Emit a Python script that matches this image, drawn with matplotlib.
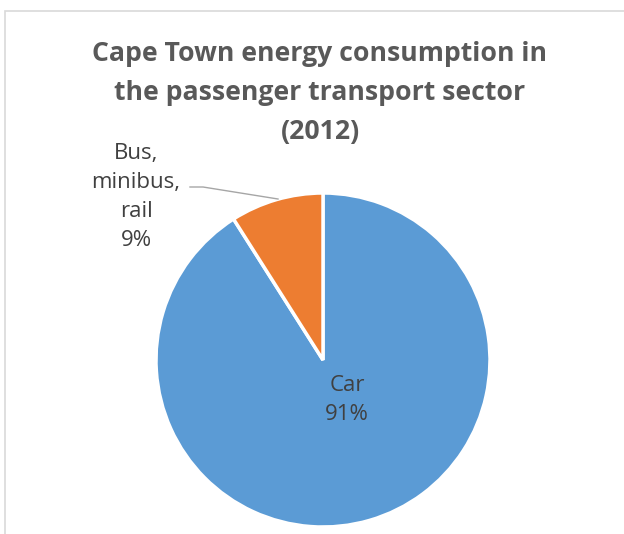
import matplotlib.pyplot as plt
from matplotlib.patches import Rectangle

# Energy share by transport mode
modes = ['Car', 'Bus,\nminibus,\nrail']
shares = [91, 9]
colors = ['#5B9BD5', '#ED7D31']

plt.rcParams['font.family'] = ['Open Sans', 'DejaVu Sans']

fig = plt.figure(figsize=(6.24, 5.34), dpi=100)
ax = fig.add_axes([0, 0, 1, 1])
ax.set_xlim(0, 624)
ax.set_ylim(0, 534)
ax.set_aspect('equal')
ax.axis('off')

# chart area frame
ax.add_patch(Rectangle((5, -20), 700, 543, fill=False, edgecolor='#d9d9d9', lw=1.2))

ax.pie(shares, colors=colors, startangle=90, counterclock=False,
       center=(323, 174), radius=167,
       wedgeprops=dict(edgecolor='white', linewidth=2.5))
ax.set_xlim(0, 624)
ax.set_ylim(0, 534)

ax.text(320, 441, 'Cape Town energy consumption in\nthe passenger transport sector\n(2012)',
        ha='center', va='center', fontsize=19.2, fontweight='bold',
        color='#595959', linespacing=1.63)

ax.text(347, 134, f'{modes[0]}\n{shares[0]}%', ha='center', va='center',
        fontsize=16, color='#404040', linespacing=1.45)
ax.text(136, 337, f'{modes[1]}\n{shares[1]}%', ha='center', va='center',
        fontsize=16, color='#404040', linespacing=1.5)

# leader line to the small slice
ax.plot([190, 203, 278], [347, 347, 335], color='#a6a6a6', lw=1)

fig.savefig('out.png', dpi=100)
